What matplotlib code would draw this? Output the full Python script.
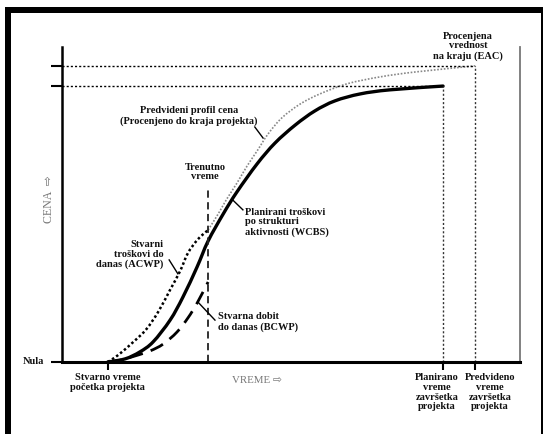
import matplotlib
matplotlib.use("Agg")
import numpy as np
import matplotlib.pyplot as plt
from matplotlib.patches import Rectangle, PathPatch
from matplotlib.path import Path

# ---- data (time units 0..100, cost units 0..100) ----
start_time = 10.0
now_time = 31.9
planned_end = 83.2
predicted_end = 90.2
bac = 87.6
eac = 94.0

planned_x = [10.0, 13.8, 17.0, 19.9, 23.6, 26.4, 29.5, 31.9, 35.2, 38.2, 42.6, 46.5, 50.9, 55.2, 59.6, 65.1, 71.6, 83.2]
planned_y = [0.0, 1.0, 3.2, 6.4, 13.3, 20.6, 30.2, 38.4, 47.0, 54.0, 62.9, 69.5, 75.2, 79.7, 82.9, 85.1, 86.4, 87.6]

acwp_x = [10.0, 11.4, 13.1, 15.3, 18.3, 21.0, 23.6, 25.8, 27.5, 29.7, 31.9]
acwp_y = [0.0, 1.3, 3.2, 6.0, 10.2, 15.9, 22.9, 28.9, 34.6, 39.0, 41.9]

eac_x = [31.9, 34.1, 36.0, 38.2, 40.4, 42.6, 45.0, 48.0, 52.0, 56.3, 62.2, 69.4, 77.3, 90.2]
eac_y = [41.9, 47.0, 51.8, 56.8, 62.2, 67.0, 72.4, 77.5, 81.9, 85.1, 88.3, 90.5, 92.1, 94.0]

bcwp_x = [10.0, 12.7, 15.9, 19.2, 22.1, 25.1, 27.5, 29.5, 31.9]
bcwp_y = [0.0, 0.6, 1.9, 3.5, 5.7, 9.5, 14.0, 18.7, 25.4]

xtick_pos = [start_time, planned_end, predicted_end]
ytick_pos = [0.0, bac, eac]

FONT = ['Liberation Serif', 'DejaVu Serif']
FS = 7.5


def smooth_curve(ax, xs, ys, **kw):
    """Catmull-Rom curve through the read points, drawn as a Bezier path."""
    p = np.column_stack([xs, ys]).astype(float)
    n = len(p)
    verts = [p[0]]
    codes = [Path.MOVETO]
    for i in range(n - 1):
        p0 = p[i - 1] if i > 0 else p[i]
        p1 = p[i]
        p2 = p[i + 1]
        p3 = p[i + 2] if i + 2 < n else p[i + 1]
        c1 = p1 + (p2 - p0) / 6.0
        c2 = p2 - (p3 - p1) / 6.0
        verts += [c1, c2, p2]
        codes += [Path.CURVE4] * 3
    patch = PathPatch(Path(verts, codes), fill=False, **kw)
    ax.add_patch(patch)
    return patch


fig = plt.figure(figsize=(5.44, 4.34), dpi=100)
W, H = 544, 434

# outer frame
fig.patches.append(Rectangle((5 / W, 0), 6 / W, 1 - 7 / H, transform=fig.transFigure,
                             facecolor='black', edgecolor='none'))
fig.patches.append(Rectangle((5 / W, 1 - 13 / H), 538 / W, 6 / H, transform=fig.transFigure,
                             facecolor='black', edgecolor='none'))
fig.patches.append(Rectangle((541 / W, 0), 2 / W, 1 - 7 / H, transform=fig.transFigure,
                             facecolor='black', edgecolor='none'))

ax = fig.add_axes([62 / W, 1 - 362 / H, 458 / W, 315 / H])
ax.set_xlim(0, 100)
ax.set_ylim(0, 100)
ax.spines['top'].set_visible(False)
ax.spines['left'].set_linewidth(1.8)
ax.spines['bottom'].set_linewidth(2.2)
ax.spines['right'].set_linewidth(1.3)
ax.spines['right'].set_color('#777777')
ax.set_xticks(xtick_pos)
ax.set_xticklabels([])
ax.set_yticks(ytick_pos)
ax.set_yticklabels([])
ax.tick_params(axis='y', length=8, width=1.5, direction='out')
ax.tick_params(axis='x', length=6, width=1.5, direction='out')

# reference lines
dot = (0, (1.5, 1.5))
ax.plot([0, predicted_end], [eac, eac], color='black', lw=1.0, ls=dot)
ax.plot([0, planned_end], [bac, bac], color='black', lw=1.0, ls=dot)
ax.plot([planned_end, planned_end], [0, bac], color='#333333', lw=1.0, ls=dot)
ax.plot([predicted_end, predicted_end], [0, eac], color='#333333', lw=1.0, ls=dot)
ax.plot([now_time, now_time], [0, 55.6], color='#222222', lw=1.3, ls=(0, (4, 2.5)))

# curves
smooth_curve(ax, eac_x, eac_y, edgecolor='#888888', lw=1.2, linestyle=(0, (1, 1)))
smooth_curve(ax, planned_x, planned_y, edgecolor='black', lw=2.4, capstyle='round')
smooth_curve(ax, acwp_x, acwp_y, edgecolor='black', lw=1.8, linestyle=(0, (1, 1)))
smooth_curve(ax, bcwp_x, bcwp_y, edgecolor='black', lw=2.0, linestyle=(0, (5, 3)))

tk = dict(family=FONT, fontsize=FS, fontweight='bold', color='#111111', linespacing=1.1)

ax.text(27.7, 78.1, "Predvideni profil cena\n(Procenjeno do kraja projekta)", ha='center', va='center', **tk)
ax.plot([42.1, 43.9], [74.6, 71.1], color='black', lw=1.0)

ax.text(31.2, 60.3, "Trenutno\nvreme", ha='center', va='center', **tk)

ax.text(40.0, 44.4, "Planirani troškovi\npo strukturi\naktivnosti (WCBS)", ha='left', va='center', **tk)
ax.plot([39.5, 37.3], [48.3, 51.4], color='black', lw=1.0)

ax.text(22.1, 34.0, "Stvarni\ntroškovi do\ndanas (ACWP)", ha='right', va='center', **tk)
ax.plot([23.4, 25.3], [32.4, 28.0], color='black', lw=1.0)

ax.text(34.1, 12.7, "Stvarna dobit\ndo danas (BCWP)", ha='left', va='center', **tk)
ax.plot([33.4, 29.7], [13.3, 19.0], color='black', lw=1.0)

ax.text(88.6, 100.3, "Procenjena\nvrednost\nna kraju (EAC)", ha='center', va='center', clip_on=False, **tk)

ax.text(-4.0, 0, "Nula", ha='right', va='center', **tk)

ax.text(start_time, -3.6, "Stvarno vreme\npočetka projekta", ha='center', va='top', **tk)
ax.text(81.9, -3.6, "Planirano\nvreme\nzavršetka\nprojekta", ha='center', va='top', **tk)
ax.text(93.4, -3.6, "Predvideno\nvreme\nzavršetka\nprojekta", ha='center', va='top', **tk)

ax.text(42.6, -5.9, "VREME ⇨", ha='center', va='center', family=['Liberation Serif', 'DejaVu Sans'],
        fontsize=7.8, color='#777777')
ax.text(-2.8, 51.7, "CENA  ⇨", ha='center', va='center', rotation=90,
        family=['Liberation Serif', 'DejaVu Sans'], fontsize=8.6, color='#777777')

fig.savefig("out.png", dpi=100)
